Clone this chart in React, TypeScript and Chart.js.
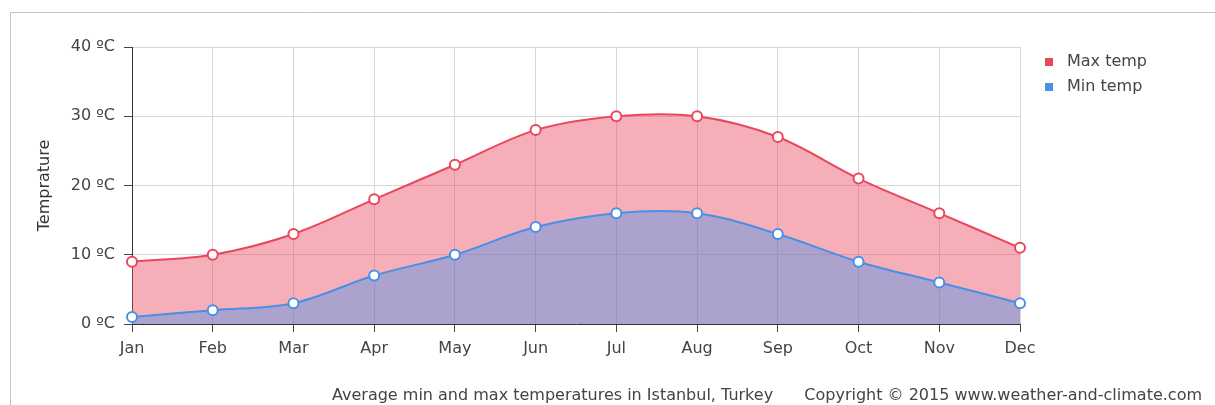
import React, { useEffect, useRef } from "react";
import { Chart, registerables } from "chart.js";

Chart.register(...registerables);

const months = ["Jan", "Feb", "Mar", "Apr", "May", "Jun", "Jul", "Aug", "Sep", "Oct", "Nov", "Dec"];
const maxTemp = [9, 10, 13, 18, 23, 28, 30, 30, 27, 21, 16, 11];
const minTemp = [1, 2, 3, 7, 10, 14, 16, 16, 13, 9, 6, 3];
const legendLabels = ["Max temp", "Min temp"];
const axisTitle = "Temprature";
const captionLeft = "Average min and max temperatures in Istanbul, Turkey";
const captionRight = "Copyright © 2015 www.weather-and-climate.com";

const FONT = "'DejaVu Sans', Verdana, sans-serif";
const RED = "#e9475c";
const BLUE = "#4a8fe6";

export default function App() {
  const ref = useRef<HTMLCanvasElement | null>(null);

  useEffect(() => {
    if (!ref.current) return;
    const decor = {
      id: "decor",
      beforeDraw(chart: any) {
        const ctx = chart.ctx;
        ctx.save();
        ctx.strokeStyle = "#c4c4c4";
        ctx.lineWidth = 1;
        ctx.beginPath();
        ctx.moveTo(10.5, 405);
        ctx.lineTo(10.5, 12.5);
        ctx.lineTo(1215, 12.5);
        ctx.stroke();
        ctx.restore();
      },
      afterDraw(chart: any) {
        const ctx = chart.ctx;
        ctx.save();
        ctx.font = `16px ${FONT}`;
        ctx.fillStyle = "#444";
        ctx.textBaseline = "middle";
        const colors = [RED, BLUE];
        legendLabels.forEach((l, i) => {
          const y = 62 + i * 25;
          ctx.fillStyle = colors[i];
          ctx.fillRect(1045, y - 4, 8, 8);
          ctx.fillStyle = "#444";
          ctx.textAlign = "left";
          ctx.fillText(l, 1067, y);
        });
        ctx.textBaseline = "alphabetic";
        ctx.textAlign = "left";
        ctx.fillText(captionLeft, 332, 400);
        ctx.textAlign = "right";
        ctx.fillText(captionRight, 1202, 400);
        ctx.restore();
      },
    };

    const chart = new Chart(ref.current, {
      type: "line",
      data: {
        labels: months,
        datasets: [
          {
            label: legendLabels[1],
            data: minTemp,
            borderColor: BLUE,
            backgroundColor: "rgba(60,142,241,0.4)",
            fill: "origin",
            borderWidth: 2,
            tension: 0.35,
            pointRadius: 5,
            pointBorderWidth: 2,
            pointBackgroundColor: "#ffffff",
            pointBorderColor: BLUE,
          },
          {
            label: legendLabels[0],
            data: maxTemp,
            borderColor: RED,
            backgroundColor: "rgba(233,70,90,0.43)",
            fill: "origin",
            borderWidth: 2,
            tension: 0.35,
            pointRadius: 5,
            pointBorderWidth: 2,
            pointBackgroundColor: "#ffffff",
            pointBorderColor: RED,
          },
        ],
      },
      options: {
        animation: false,
        responsive: false,
        maintainAspectRatio: false,
        layout: { padding: { left: 0, right: 195, top: 47, bottom: 0 } },
        plugins: {
          legend: { display: false },
          tooltip: { enabled: false },
          filler: { drawTime: "beforeDatasetsDraw" },
        } as any,
        scales: {
          x: {
            offset: false,
            grid: { color: "#d6d6d6", tickColor: "#444", tickLength: 8, lineWidth: 1 },
            border: { color: "#333", width: 1 },
            ticks: { color: "#444", font: { family: FONT, size: 16 }, padding: 7, maxRotation: 0, autoSkip: false },
            afterFit(scale: any) {
              scale.height = 81;
            },
          },
          y: {
            min: 0,
            max: 40,
            grid: { color: "#d6d6d6", tickColor: "#444", tickLength: 8, lineWidth: 1 },
            border: { color: "#333", width: 1 },
            ticks: {
              stepSize: 10,
              color: "#444",
              font: { family: FONT, size: 16 },
              padding: 9,
              callback: (v: any) => `${v} ºC`,
            },
            title: {
              display: true,
              text: axisTitle,
              color: "#333",
              font: { family: FONT, size: 16 },
              padding: { top: 35, bottom: 0 },
            },
            afterFit(scale: any) {
              scale.width = 132;
            },
          },
        },
      },
      plugins: [decor],
    });
    return () => chart.destroy();
  }, []);

  return (
    <div style={{ position: "fixed", left: 0, top: 0, width: 1215, height: 405, background: "#fff" }}>
      <canvas ref={ref} width={1215} height={405} style={{ width: 1215, height: 405, display: "block" }} />
    </div>
  );
}
